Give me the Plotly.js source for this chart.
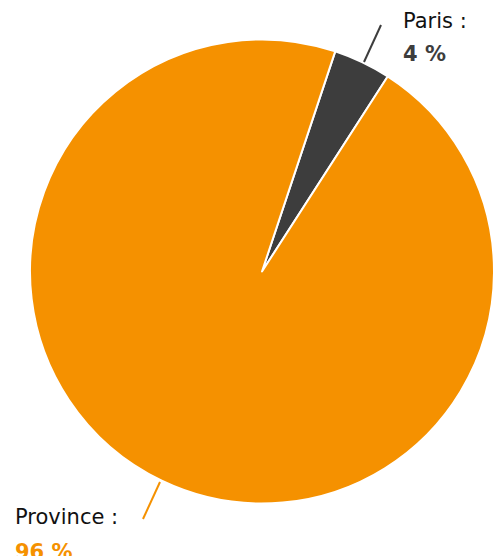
<!DOCTYPE html>
<html>
<head>
<meta charset="utf-8">
<script src="https://cdn.plot.ly/plotly-3.0.1.min.js"></script>
<style>html,body{margin:0;padding:0;background:#fff;}#chart{width:497px;height:556px;}</style>
</head>
<body>
<div id="chart"></div>
<script>
const categories = ["Paris", "Province"];
const values = [4, 96];
const labelsText = ["4 %", "96 %"];
const colors = ["#3d3d3d", "#f59100"];

const W = 497, H = 556;
const px = x => x / W;
const py = y => 1 - y / H;

const trace = {
  type: "pie",
  labels: categories,
  values: values,
  sort: false,
  direction: "clockwise",
  rotation: 18.4,
  textinfo: "none",
  hoverinfo: "label+percent",
  marker: { colors: colors, line: { color: "#ffffff", width: 2 } },
  domain: { x: [30 / W, 494 / W], y: [(284.5 - 232) / H, (284.5 + 232) / H] },
  showlegend: false
};

const font = "DejaVu Sans, sans-serif";
const layout = {
  width: W, height: H,
  margin: { l: 0, r: 0, t: 0, b: 0 },
  paper_bgcolor: "#ffffff",
  showlegend: false,
  shapes: [
    { type: "line", xref: "paper", yref: "paper", x0: px(364), y0: py(62), x1: px(381), y1: py(25), line: { color: colors[0], width: 2 } },
    { type: "line", xref: "paper", yref: "paper", x0: px(160), y0: py(482), x1: px(143), y1: py(519), line: { color: colors[1], width: 2 } }
  ],
  annotations: [
    { xref: "paper", yref: "paper", x: px(401), y: py(21), xanchor: "left", yanchor: "middle", showarrow: false, text: categories[0] + " :", font: { family: font, size: 21, color: "#111111" } },
    { xref: "paper", yref: "paper", x: px(401), y: py(54), xanchor: "left", yanchor: "middle", showarrow: false, text: "<b>" + labelsText[0] + "</b>", font: { family: font, size: 21, color: colors[0] } },
    { xref: "paper", yref: "paper", x: px(13), y: py(517), xanchor: "left", yanchor: "middle", showarrow: false, text: categories[1] + " :", font: { family: font, size: 21, color: "#111111" } },
    { xref: "paper", yref: "paper", x: px(13), y: py(552), xanchor: "left", yanchor: "middle", showarrow: false, text: "<b>" + labelsText[1] + "</b>", font: { family: font, size: 21, color: colors[1] } }
  ]
};

Plotly.newPlot("chart", [trace], layout, { displayModeBar: false, staticPlot: true });
</script>
</body>
</html>
